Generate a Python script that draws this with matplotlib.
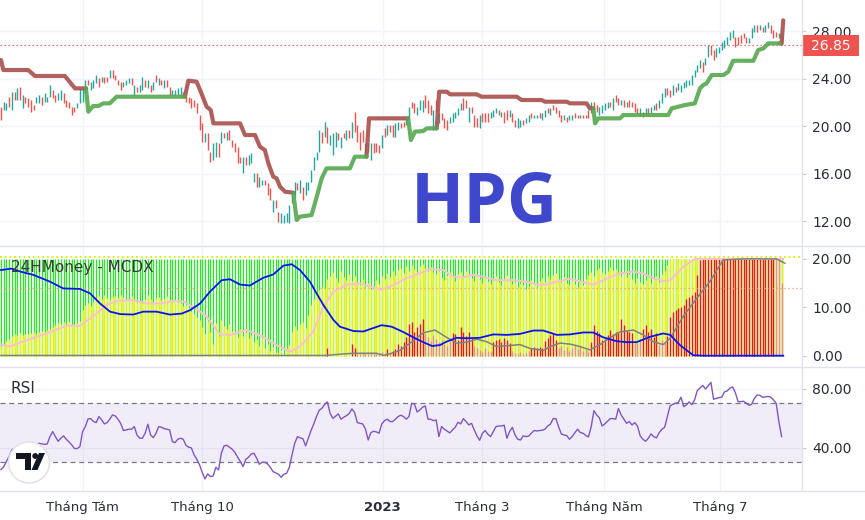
import matplotlib
matplotlib.use('Agg')
import matplotlib.pyplot as plt
from matplotlib.patches import Rectangle, Circle, Polygon

# ---------------- DATA ----------------
opens = [21.64, 21.36, 21.36, 22.48, 21.36, 22.90, 22.20, 23.32, 21.50, 22.48,
 22.34, 22.20, 21.78, 21.92, 21.92, 22.48, 22.06, 22.06, 22.48, 23.04,
 22.62, 22.20, 22.20, 22.76, 22.20, 22.06, 21.64, 21.64, 21.50, 21.92,
 22.06, 22.76, 23.88, 23.04, 23.18, 23.60, 24.02, 23.74, 24.16, 24.16,
 24.02, 24.72, 24.30, 23.88, 23.74, 23.32, 23.46, 23.60, 24.02, 22.62,
 23.32, 22.90, 23.04, 23.88, 23.18, 23.46, 23.04, 24.30, 23.46, 23.88,
 23.18, 23.88, 23.32, 22.62, 22.62, 22.62, 22.48, 22.90, 22.62, 22.48,
 22.34, 22.20, 21.92, 20.94, 20.24, 18.70, 19.40, 17.86, 17.16, 17.44,
 18.56, 18.56, 19.40, 18.84, 19.68, 18.84, 18.56, 18.28, 17.44, 16.04,
 17.44, 16.74, 16.88, 15.34, 16.04, 14.92, 15.06, 15.48, 15.20, 14.78,
 12.82, 13.80, 12.82, 11.84, 11.84, 11.98, 11.84, 13.52, 14.08, 15.20,
 14.36, 14.92, 14.22, 14.64, 15.34, 16.32, 17.16, 17.86, 19.54, 19.12,
 19.96, 18.42, 17.58, 18.28, 19.40, 18.14, 19.40, 18.84, 19.68, 18.98,
 21.22, 20.10, 19.54, 19.68, 17.44, 18.56, 17.16, 18.56, 18.56, 18.42,
 18.14, 19.82, 19.26, 20.10, 20.10, 19.12, 19.68, 20.24, 20.38, 20.10,
 20.66, 22.06, 21.92, 20.94, 21.36, 21.22, 22.62, 22.20, 21.78, 19.68,
 22.20, 20.24, 21.08, 20.66, 20.52, 20.24, 20.38, 20.66, 20.94, 21.36,
 22.34, 22.20, 20.38, 21.64, 20.94, 20.66, 19.82, 21.08, 21.08, 21.08,
 20.66, 20.80, 21.08, 21.36, 20.80, 21.22, 21.36, 20.80, 21.08, 20.52,
 19.82, 19.96, 20.52, 20.24, 20.38, 21.08, 20.66, 20.66, 21.08, 20.52,
 20.80, 21.50, 20.94, 21.78, 21.64, 21.36, 20.94, 20.52, 20.80, 20.52,
 20.52, 21.08, 20.94, 20.66, 20.94, 20.94, 21.36, 21.08, 22.06,
 21.78, 20.94, 21.08, 21.36, 21.50, 22.06, 21.36, 22.62, 22.34, 21.78,
 22.20, 21.64, 22.20, 22.06, 21.92, 21.50, 20.94, 21.22, 20.94, 21.50,
 21.08, 21.36, 21.92, 21.50, 21.92, 22.48, 23.18, 23.04, 22.62, 23.32,
 23.04, 22.90, 23.18, 23.32, 23.46, 23.46, 24.16, 24.58, 24.86, 25.42,
 25.14, 25.84, 26.82, 26.40, 25.84, 26.12, 26.40, 26.54, 26.82, 27.24,
 27.38, 27.52, 27.52, 27.66, 27.80, 27.52, 26.96, 27.38, 27.94, 28.50,
 28.08, 28.36, 27.94, 28.22, 28.50, 28.08, 27.94, 27.38, 27.80]

closes = [20.52, 22.06, 21.92, 21.64, 22.90, 22.20, 23.18, 22.20, 22.62, 21.92,
 21.64, 21.22, 21.36, 22.48, 22.62, 21.78, 22.76, 22.48, 23.46, 22.34,
 22.06, 22.76, 23.04, 21.92, 21.64, 21.50, 20.94, 21.22, 21.92, 23.18,
 23.18, 23.88, 23.46, 23.74, 23.88, 24.30, 23.32, 24.16, 23.60, 23.74,
 24.72, 24.02, 23.88, 23.46, 23.04, 23.74, 23.88, 24.02, 23.46, 23.46,
 22.90, 23.46, 24.16, 23.32, 23.88, 22.90, 23.74, 23.74, 24.02, 23.46,
 23.88, 23.32, 22.62, 23.04, 23.04, 23.18, 23.32, 22.48, 22.06, 21.92,
 21.50, 21.64, 21.08, 19.68, 18.70, 19.40, 18.00, 17.02, 18.56, 18.70,
 17.44, 19.54, 18.98, 19.54, 18.84, 18.28, 17.86, 16.88, 16.88, 17.44,
 16.74, 17.58, 17.72, 16.04, 14.92, 15.76, 15.48, 15.10, 14.22, 13.80,
 13.80, 13.10, 11.98, 12.68, 12.54, 12.68, 13.38, 14.22, 15.34, 14.64,
 15.48, 13.80, 15.34, 15.34, 16.32, 17.44, 17.86, 19.68, 18.56, 20.38,
 18.56, 19.26, 19.40, 19.54, 18.84, 19.12, 18.98, 19.68, 18.98, 20.38,
 19.54, 18.70, 18.00, 18.70, 18.56, 17.86, 18.56, 17.72, 17.86, 17.72,
 19.26, 19.12, 20.10, 19.54, 19.12, 20.24, 20.38, 19.82, 19.96, 20.66,
 21.64, 21.50, 21.08, 21.64, 22.20, 22.20, 21.50, 21.08, 20.94, 21.36,
 21.22, 21.08, 20.52, 19.82, 19.68, 20.80, 21.08, 21.22, 21.50, 21.92,
 21.36, 21.50, 21.64, 21.08, 19.96, 19.96, 20.94, 20.38, 20.38, 20.38,
 21.22, 21.36, 21.50, 20.94, 21.22, 20.24, 20.52, 21.36, 20.38, 19.96,
 20.66, 20.52, 20.10, 20.66, 20.94, 20.66, 20.94, 20.94, 20.66, 21.08,
 21.36, 21.08, 21.50, 21.36, 21.08, 20.80, 20.38, 20.94, 20.38, 20.94,
 20.94, 20.66, 20.66, 20.94, 20.66, 20.66, 20.66, 22.06, 21.64,
 21.22, 21.64, 21.78, 21.92, 22.06, 21.64, 22.34, 22.06, 21.78, 22.20,
 21.64, 22.06, 21.64, 21.64, 21.22, 21.08, 21.50, 20.80, 21.50, 20.94,
 21.64, 21.78, 21.36, 22.20, 22.76, 23.18, 22.62, 22.48, 23.46, 22.90,
 23.60, 23.46, 23.74, 23.88, 23.88, 24.30, 24.72, 25.14, 25.56, 24.58,
 25.70, 26.82, 25.98, 25.56, 26.54, 26.68, 27.10, 27.24, 27.52, 27.94,
 28.08, 26.68, 26.82, 26.96, 27.38, 26.96, 27.38, 28.22, 28.50, 27.94,
 28.50, 27.94, 28.50, 28.78, 27.80, 27.38, 27.52, 27.80, 26.85]

last_price = 26.85

# trailing-stop style indicator: (bar index, price) breakpoints per segment
resist_segments = [
    [(0, 25.56), (0.85, 24.72), (10, 24.72), (12.5, 24.22), (23.5, 24.22), (27.2, 23.18), (31.25, 23.18)],
    [(67.6, 22.48), (68.9, 23.83), (71.9, 23.74), (73.2, 23.04), (75.6, 21.64), (77.1, 21.36), (78.1, 20.24),
     (87.9, 20.24), (89.7, 19.26), (93.4, 19.26), (95.2, 18.28), (97, 18.0), (98.3, 16.88), (100.1, 15.76),
     (101.3, 15.62), (102.6, 14.92), (104.4, 14.5), (107.5, 14.41)],
    [(134.4, 17.44), (135.3, 20.66), (149.7, 20.66)],
    [(160.2, 19.82), (161.1, 22.9), (163.9, 22.9), (165.1, 22.68), (174.9, 22.68), (176.7, 22.48), (189.6, 22.48),
     (191.4, 22.2), (198.8, 22.2), (200, 22.06), (208, 22.06), (209.2, 21.92), (215.3, 21.92), (216.5, 21.5), (217.8, 21.5)],
    [(286.4, 26.96), (287, 26.96), (287.6, 28.9)],
]
support_segments = [
    [(31.25, 23.18), (32.1, 21.22), (33.9, 21.7), (35.8, 21.7), (37.6, 21.92), (40, 21.92), (42.5, 22.48), (67.6, 22.48)],
    [(107.5, 14.36), (108.7, 12.12), (109.9, 12.4), (114.2, 12.54), (116.1, 14.08), (117.9, 15.62), (119.7, 16.46),
     (128.3, 16.46), (130.1, 17.44), (134.4, 17.44)],
    [(149.7, 20.66), (150.7, 18.84), (152.2, 19.54), (155.3, 19.6), (156.5, 19.82), (160.2, 19.82)],
    [(217.8, 21.5), (218.4, 20.24), (219.6, 20.66), (227.6, 20.66), (228.8, 20.94), (245.3, 20.94), (246.6, 21.5),
     (249, 21.64), (251.5, 21.78), (255.1, 21.92), (257, 23.18), (258.2, 23.46), (259.4, 23.6), (261.3, 24.3),
     (265.6, 24.3), (267.4, 24.58), (269.2, 25.5), (276.6, 25.5), (278.4, 26.4), (280.3, 26.54), (282.1, 26.96), (286.4, 26.96)],
]

# MCDX
retail_level = 20.0
hot_money = [2.0, 2.5, 3.0, 3.5, 4.0, 4.4, 4.2, 4.6, 4.3, 4.5,
 4.4, 4.6, 4.8, 4.5, 5.0, 5.2, 4.9, 5.3, 5.6, 6.0,
 6.4, 6.8, 6.5, 7.0, 6.6, 6.9, 6.4, 6.2, 6.8, 7.2,
 9.5, 10.4, 10.8, 10.2, 11.0, 11.6, 12.3, 11.8, 12.5, 12.0,
 11.6, 12.2, 12.4, 11.9, 12.6, 12.1, 11.5, 11.8, 12.3, 11.6,
 11.0, 11.4, 10.9, 11.8, 12.6, 11.7, 11.2, 11.9, 12.2, 11.6,
 11.8, 12.4, 11.5, 11.1, 11.6, 11.0, 10.8, 10.2, 10.5, 9.8,
 9.2, 8.6, 8.0, 7.4, 6.0, 4.5, 7.2, 5.0, 2.5, 6.8,
 4.0, 7.4, 6.2, 5.5, 6.6, 5.2, 4.4, 3.8, 5.6, 4.0,
 4.8, 3.6, 4.2, 2.8, 3.5, 2.0, 3.6, 1.5, 2.4, 1.0,
 1.8, 0.8, 0.5, 1.2, 0.4, 1.5, 2.2, 4.8, 6.2, 5.4,
 6.6, 7.0, 5.8, 8.5, 10.4, 11.8, 12.8, 13.5, 14.2, 13.9,
 15.8, 16.4, 17.2, 16.0, 15.3, 17.5, 16.2, 15.6, 16.8, 15.4,
 16.5, 15.2, 14.6, 15.8, 14.2, 15.0, 13.8, 14.5, 15.6, 14.8,
 16.4, 15.8, 17.0, 16.2, 17.5, 16.6, 17.8, 18.2, 17.0, 18.5,
 17.6, 18.8, 18.0, 17.4, 18.6, 19.0, 18.2, 17.6, 18.4, 17.2,
 16.8, 17.5, 16.0, 15.6, 16.6, 17.4, 16.2, 15.5, 16.8, 17.2,
 16.4, 17.6, 16.8, 16.0, 15.4, 16.6, 15.8, 15.0, 16.2, 15.4,
 14.8, 15.6, 16.4, 15.2, 14.6, 15.8, 16.6, 15.4, 14.8, 15.2,
 14.2, 15.0, 14.6, 13.8, 14.4, 15.6, 14.8, 14.2, 15.4, 16.0,
 15.2, 16.4, 15.8, 16.6, 17.0, 15.8, 15.2, 16.2, 15.0, 14.6,
 15.6, 14.8, 14.2, 15.4, 14.6, 15.8, 16.6, 17.2, 16.4, 17.8,
 18.2, 17.4, 16.8, 17.6, 18.4, 17.8, 18.0, 17.2, 16.4, 17.0,
 16.2, 16.8, 15.8, 15.0, 16.0, 15.2, 14.8, 15.6, 16.2, 15.0,
 15.8, 16.4, 15.2, 16.8, 17.6, 18.8, 20.0, 20.0, 20.0, 20.0,
 20.0, 20.0, 20.0, 20.0, 20.0, 20.0, 20.0, 20.0, 20.0, 20.0,
 20.0, 20.0, 20.0, 20.0, 20.0, 20.0, 20.0, 20.0, 20.0, 20.0,
 20.0, 20.0, 20.0, 20.0, 20.0, 20.0, 20.0, 20.0, 20.0, 20.0,
 20.0, 20.0, 20.0, 20.0, 20.0, 20.0, 20.0, 19.7]

banker = [0, 0, 0, 0, 0, 0, 0, 0, 0, 0,
 0, 0, 0, 0, 0, 0, 0, 0, 0, 0,
 0, 0, 0, 0, 0, 0, 0, 0, 0, 0,
 0, 0, 0, 0, 0, 0, 0, 0, 0, 0,
 0, 0, 0, 0, 0, 0, 0, 0, 0, 0,
 0, 0, 0, 0, 0, 0, 0, 0, 0, 0,
 0, 0, 0, 0, 0, 0, 0, 0, 0, 0,
 0, 0, 0, 0, 0, 0, 0, 0, 0, 0,
 0, 0, 0, 0, 0, 0, 0, 0, 0, 0,
 0, 0, 0, 0, 0, 0, 0, 0, 0, 0,
 0, 0, 0, 0, 0, 0, 0, 0, 0, 0,
 0, 0, 0, 0, 0, 0, 0, 0, 0, 0,
 1.5, 0, 0, 0, 0, 0, 0, 0, 0, 2.5,
 1.5, 0.4, 0.3, 0.5, 0.4, 0.3, 0.5, 0.4, 0.6, 0.3,
 0.8, 0.2, 1.4, 0.5, 0.9, 1.4, 2.5, 2.1, 2.8, 3.9,
 6.6, 6.9, 5.0, 6.0, 6.6, 7.6, 4.5, 3.8, 3.0, 4.2,
 3.5, 2.8, 3.2, 2.5, 2.0, 3.0, 4.6, 4.5, 3.3, 6.0,
 5.0, 4.0, 4.8, 3.6, 2.0, 1.5, 1.2, 0.8, 1.5, 1.0,
 0.7, 2.8, 3.3, 3.4, 2.8, 3.6, 3.3, 2.6, 1.0, 0.6,
 0.4, 0.8, 0.3, 0.6, 0.9, 1.6, 1.9, 1.6, 1.9, 1.6,
 3.0, 3.6, 4.3, 4.6, 3.3, 1.6, 2.0, 1.2, 1.8, 1.0,
 1.5, 2.2, 1.4, 1.8, 1.0, 1.3, 0.8, 2.9, 6.3, 5.2,
 4.6, 3.3, 3.4, 4.3, 5.3, 4.5, 4.8, 5.0, 7.6, 6.3,
 5.3, 5.0, 4.6, 2.9, 2.6, 3.5, 5.5, 6.3, 4.8, 5.5,
 3.8, 4.6, 2.5, 3.2, 2.8, 4.0, 8.1, 9.1, 9.4, 9.8,
 10.1, 10.5, 11.8, 12.2, 12.5, 13.2, 16.7, 19.8, 20.0, 20.0,
 20.0, 20.0, 20.0, 20.0, 20.0, 20.0, 20.0, 20.0, 20.0, 20.0,
 20.0, 20.0, 20.0, 20.0, 20.0, 20.0, 20.0, 20.0, 20.0, 20.0,
 20.0, 20.0, 20.0, 20.0, 20.0, 20.0, 20.0, 15.0]

# 'R' = strong banker bar, 's' = weak (salmon) bar, '.' = none
banker_tone = ('.' * 0 +
 '..........' '..........' '..........' '..........' '..........' '..........'
 '..........' '..........' '..........' '..........' '..........' '..........'
 'R........R' 'Rsssssssss' 'ssRsRRRRRR' 'RRRRRRssss' 'ssssssRRRR' 'RRRRssssss'
 'sRRRRRRRss' 'sssssRRRRR' 'RRRRRsssss' 'sssssssRRR' 'RRRRRRRRRR' 'RRRsssRRRR'
 'RRsssRRRRR' 'RRRRRRRRRR' 'RRRRRRRRRR' 'RRRRRRRRRR' 'RRRRRsss')

retail_line = [(0, 17.7), (3.9, 18.0), (7.0, 17.4), (11.9, 16.7), (18.0, 15.3), (22.9, 13.9), (29.0, 13.8),
 (32.7, 12.9), (36.4, 10.8), (40.1, 9.1), (43.8, 8.6), (48.6, 8.5), (52.3, 9.1), (57.2, 9.1), (62.1, 8.5),
 (66.4, 8.7), (69.5, 9.4), (73.2, 10.8), (76.8, 13.2), (81.1, 15.6), (84.2, 15.8), (87.9, 14.7), (91.5, 14.5),
 (96.4, 16.1), (100.1, 16.8), (103.8, 18.6), (106.9, 18.9), (109.9, 17.7), (113.6, 15.3), (116.0, 12.9),
 (118.5, 10.5), (122.2, 7.4), (124.6, 6.0), (129.5, 5.1), (133.2, 5.0), (136.3, 5.6), (139.9, 6.3),
 (143.6, 6.0), (147.5, 5.0), (151.6, 3.8), (155.2, 2.8), (158.5, 2.0), (161.4, 2.2), (163.8, 2.9),
 (167.5, 3.7), (171.2, 3.6), (176.0, 3.7), (181.0, 4.4), (185.9, 4.3), (190.8, 4.5), (195.7, 5.2),
 (199.4, 5.2), (204.3, 4.3), (209.2, 4.4), (214.1, 4.8), (217.7, 4.8), (221.4, 3.8), (226.3, 3.0),
 (230.0, 2.8), (233.7, 2.8), (238.6, 3.9), (243.5, 4.6), (246.0, 4.3), (249.6, 2.2), (254.5, 0.1),
 (258.2, 0.0), (287.6, 0.0)]
hot_line = [(0, 2.3), (3.3, 1.9), (9.4, 3.2), (16.8, 4.6), (24.1, 6.2), (29.0, 6.2), (33.9, 8.1), (38.8, 10.5),
 (42.5, 11.3), (48.6, 11.5), (53.5, 10.8), (58.5, 10.8), (63.4, 11.3), (67.0, 11.2), (70.7, 10.1), (75.6, 8.1),
 (80.5, 4.4), (84.2, 4.3), (90.3, 5.3), (96.4, 3.9), (101.3, 2.2), (106.2, 0.8), (109.9, 1.9), (114.8, 5.0),
 (118.5, 10.1), (122.2, 13.2), (127.1, 14.7), (132.0, 14.9), (135.7, 14.3), (139.9, 13.6), (144.2, 14.6),
 (149.1, 16.0), (154.0, 17.0), (157.7, 17.9), (162.6, 17.7), (166.3, 16.3), (170.0, 16.2), (173.6, 16.7),
 (177.3, 16.3), (182.2, 15.6), (188.3, 15.6), (193.2, 15.3), (196.9, 14.7), (200.6, 14.7), (204.3, 15.3),
 (209.2, 15.9), (215.3, 15.0), (217.7, 14.7), (222.6, 15.9), (227.5, 17.0), (232.5, 17.4), (236.1, 17.0),
 (239.8, 16.0), (243.5, 15.4), (246.0, 15.6), (250.8, 18.4), (255.1, 20.0), (287.6, 20.0)]
banker_line = [(0, 0.05), (119.7, 0.05), (122.2, 0.2), (129.5, 0.5), (138.1, 0.5), (140.6, 0.1), (143.0, 0.4),
 (146.7, 1.1), (151.6, 3.1), (155.2, 4.7), (159.5, 5.3), (163.8, 3.8), (167.5, 2.6), (171.2, 2.8),
 (175.0, 3.4), (178.5, 2.9), (182.2, 1.9), (187.1, 2.1), (190.8, 2.3), (194.5, 1.5), (199.4, 1.1),
 (202.5, 2.0), (205.5, 2.6), (209.2, 2.4), (212.8, 1.9), (216.5, 1.2), (220.2, 2.3), (223.9, 3.7),
 (227.5, 4.9), (232.5, 5.3), (236.1, 4.3), (239.8, 2.9), (243.5, 2.3), (246.0, 3.6), (250.8, 8.1),
 (255.7, 11.8), (260.6, 15.3), (265.5, 19.8), (272.9, 20.0), (285.1, 20.0), (288.2, 19.1)]
mcdx_ref_level = 13.9

# RSI
rsi = [25.0, 27.0, 30.5, 34.0, 38.5, 39.3, 38.8, 40.2, 41.5, 41.0,
 40.6, 41.0, 41.8, 42.4, 42.9, 42.4, 42.2, 42.4, 47.4, 50.8,
 47.4, 44.2, 46.3, 47.9, 45.6, 43.8, 41.8, 39.3, 39.3, 40.6,
 50.8, 54.2, 59.4, 59.6, 57.6, 56.9, 61.0, 58.7, 56.0, 56.9,
 59.2, 62.1, 61.4, 59.2, 56.4, 51.5, 51.9, 52.4, 52.4, 54.2,
 48.5, 46.3, 46.3, 49.7, 55.8, 48.5, 46.7, 49.7, 54.2, 53.7,
 52.8, 52.4, 51.9, 44.0, 43.3, 45.6, 46.3, 45.6, 41.5, 40.2,
 39.7, 35.0, 32.0, 28.2, 23.0, 18.7, 22.1, 20.3, 20.7, 26.6,
 24.8, 36.1, 41.1, 41.5, 40.2, 38.8, 36.6, 33.4, 30.5, 27.1,
 32.0, 33.4, 35.6, 36.1, 32.7, 28.6, 30.0, 30.0, 28.9, 26.6,
 23.7, 22.8, 21.9, 19.8, 21.9, 22.5, 26.6, 35.0, 42.9, 47.4,
 46.5, 46.0, 41.1, 46.3, 51.5, 56.0, 61.0, 65.3, 66.6, 69.3,
 70.9, 63.2, 59.8, 61.2, 62.8, 59.2, 60.5, 61.6, 63.0, 66.2,
 63.7, 56.9, 56.4, 56.0, 52.4, 45.1, 50.1, 51.0, 50.6, 49.7,
 56.0, 58.2, 59.2, 57.6, 57.6, 59.2, 61.0, 61.9, 61.0, 59.2,
 61.0, 70.0, 69.5, 64.1, 65.5, 67.3, 68.2, 59.2, 59.2, 58.2,
 58.7, 47.4, 54.2, 52.4, 51.2, 49.9, 51.9, 53.7, 57.1, 56.0,
 59.6, 57.6, 55.3, 56.4, 51.9, 47.9, 44.9, 49.7, 51.5, 49.0,
 47.4, 50.8, 54.2, 54.6, 54.6, 55.1, 46.3, 50.8, 53.7, 48.5,
 45.6, 45.1, 47.9, 47.4, 47.7, 49.7, 51.5, 51.2, 51.5, 51.7,
 52.4, 54.6, 55.8, 59.6, 59.6, 54.2, 49.2, 48.5, 48.1, 45.6,
 47.4, 50.1, 52.4, 50.1, 49.7, 48.1, 47.2, 54.2, 65.0, 62.1,
 60.1, 54.6, 56.0, 57.8, 59.6, 59.6, 59.2, 66.4, 62.1, 59.2,
 56.4, 57.6, 55.3, 56.9, 54.6, 47.9, 45.6, 44.2, 46.3, 49.2,
 47.4, 46.5, 50.1, 52.4, 53.7, 61.0, 68.2, 69.3, 70.0, 70.5,
 74.1, 67.7, 68.9, 70.9, 69.1, 72.3, 78.6, 80.4, 82.1, 79.7,
 81.8, 84.2, 72.7, 73.4, 73.8, 74.1, 77.7, 78.4, 80.2, 81.1,
 77.2, 71.1, 71.1, 71.4, 70.0, 68.6, 69.3, 73.4, 75.6, 75.4,
 74.1, 74.3, 74.7, 74.1, 72.3, 70.0, 57.6, 47.4]
rsi_upper, rsi_lower = 70, 30

# time axis (bar index of month starts)
month_ticks = [30, 74, 140.4, 177, 221.7, 264.3]
month_labels = ['Tháng Tám', 'Tháng 10', '2023', 'Tháng 3', 'Tháng Năm', 'Tháng 7']
price_ticks = [12, 16, 20, 24, 28]
mcdx_ticks = [0, 10, 20]
rsi_ticks = [40, 80]
ticker = 'HPG'

# ---------------- FIGURE ----------------
W, H = 865, 520
fig = plt.figure(figsize=(W / 100, H / 100), dpi=100)
fig.patch.set_facecolor('white')
plt.rcParams['font.family'] = ['DejaVu Sans']

def frac(l, t, r, b):
    return [l / W, 1 - b / H, (r - l) / W, (b - t) / H]

ax_p = fig.add_axes(frac(0, 0, 802, 245))
ax_m = fig.add_axes(frac(0, 246, 802, 366))
ax_r = fig.add_axes(frac(0, 367, 802, 491))

XLIM = (-0.37, 294.5)
TXT = '#2a2e39'
GRID = '#f0f3fa'

for ax in (ax_p, ax_m, ax_r):
    ax.set_xlim(*XLIM)
    for s in ax.spines.values():
        s.set_visible(False)
    ax.set_xticks(month_ticks)
    ax.grid(True, color=GRID, lw=1.0, zorder=0)
    ax.set_axisbelow(True)
    ax.yaxis.tick_right()
    ax.tick_params(axis='y', which='both', length=3, width=0.8, color='#c8cad0', pad=4.5,
                   labelsize=10, labelcolor=TXT)
    ax.tick_params(axis='x', length=0)
    ax.set_facecolor('none')

# --- price panel ---
N = len(closes)
xs = list(range(N))
lo = [min(o, c) for o, c in zip(opens, closes)]
hi = [max(o, c) for o, c in zip(opens, closes)]
cols = ['#26a69a' if c >= o else '#ef5350' for o, c in zip(opens, closes)]
ax_p.vlines(xs, lo, hi, colors=cols, lw=1.0, zorder=3)
for seg in resist_segments:
    ax_p.plot([p[0] for p in seg], [p[1] for p in seg], color='#a8504b', lw=3.0, alpha=0.9,
              solid_capstyle='round', solid_joinstyle='round', zorder=4)
for seg in support_segments:
    ax_p.plot([p[0] for p in seg], [p[1] for p in seg], color='#55a84f', lw=3.0, alpha=0.9,
              solid_capstyle='round', solid_joinstyle='round', zorder=4)
ax_p.axhline(last_price, color='#ef5350', ls=(0, (1, 2.2)), lw=0.9, zorder=2)
ax_p.set_ylim(10.02, 30.605)
ax_p.set_yticks(price_ticks)
ax_p.set_yticklabels([f'{v:.2f}' for v in price_ticks])
ax_p.tick_params(axis='x', labelbottom=False)

# --- MCDX panel ---
ax_m.vlines(xs, 0, retail_level, colors='#2ae52a', lw=0.95, zorder=2)
ax_m.vlines(xs, 0, hot_money, colors='#eef200', lw=0.95, zorder=3)
rx = [i for i in xs if banker_tone[i] != '.']
ry = [banker[i] for i in rx]
rc = ['#ff1010' if banker_tone[i] == 'R' else '#f68a7c' for i in rx]
ax_m.vlines(rx, 0, ry, colors=rc, lw=0.95, zorder=4)
ax_m.axhline(20.3, color='#dcee00', ls=(0, (1, 1.6)), lw=1.3, zorder=5)
ax_m.axhline(mcdx_ref_level, color='#f59a78', ls=(0, (1, 2.2)), lw=0.9, zorder=5)
ax_m.plot([p[0] for p in hot_line], [p[1] for p in hot_line], color='#ffc0cb', lw=1.4, zorder=6)
ax_m.plot([p[0] for p in banker_line], [p[1] for p in banker_line], color='#808080', lw=1.1, zorder=6)
ax_m.plot([p[0] for p in retail_line], [p[1] for p in retail_line], color='#0a14f0', lw=1.3, zorder=7)
ax_m.set_ylim(-2.13, 22.67)
ax_m.set_yticks(mcdx_ticks)
ax_m.set_yticklabels([f'{v:.2f}' for v in mcdx_ticks])
ax_m.tick_params(axis='x', labelbottom=False)
ax_m.grid(False, axis='y')
ax_m.text(0.0135, 0.82, '24HMoney - MCDX', transform=ax_m.transAxes, fontsize=11, color='#3a3a3a',
          ha='left', va='center', zorder=8)

# --- RSI panel ---
ax_r.axhspan(rsi_lower, rsi_upper, color='#7e57c2', alpha=0.1, lw=0, zorder=1)
ax_r.axhline(rsi_upper, color='#787b86', ls=(0, (4, 3)), lw=0.9, zorder=2)
ax_r.axhline(rsi_lower, color='#787b86', ls=(0, (4, 3)), lw=0.9, zorder=2)
ax_r.plot(range(len(rsi)), rsi, color='#7e57c2', lw=1.0, zorder=4)
ax_r.set_ylim(10.5, 94.6)
ax_r.set_yticks(rsi_ticks)
ax_r.set_yticklabels([f'{v:.2f}' for v in rsi_ticks])
ax_r.set_xticklabels(month_labels)
ax_r.tick_params(axis='x', labelsize=9.5, labelcolor=TXT, pad=7)
for lab in ax_r.get_xticklabels():
    if lab.get_text() == '2023':
        lab.set_fontweight('bold')
ax_r.text(0.0135, 0.83, 'RSI', transform=ax_r.transAxes, fontsize=11, color=TXT,
          ha='left', va='center', zorder=8)

# --- overlay decorations ---
ov = fig.add_axes([0, 0, 1, 1], zorder=10)
ov.set_xlim(0, W)
ov.set_ylim(H, 0)
ov.axis('off')
ov.patch.set_alpha(0)
SEP = '#e0e3eb'
for yy in (245.5, 366.5, 491):
    ov.plot([0, W], [yy, yy], color=SEP, lw=1.0)
ov.plot([802, 802], [0, 491], color=SEP, lw=1.0)

# ticker watermark
ov.text(484, 222.5, ticker, fontsize=50, fontweight='bold', color='#3f48cc', family='Open Sans',
        ha='center', va='baseline', zorder=1)

# last price label
ov.add_patch(Rectangle((802, 35), 57, 21, facecolor='#ef5350', edgecolor='none'))
ov.text(830.5, 45.5, f'{last_price:.2f}', color='white', fontsize=10, ha='center', va='center')

# TradingView badge
ov.add_patch(Circle((29, 462.5), 20.5, facecolor='white', edgecolor='#e3e3e3', lw=1.2, zorder=11))
ov.add_patch(Rectangle((16, 453), 15, 6, facecolor='#131722', edgecolor='none', zorder=12))
ov.add_patch(Rectangle((25, 453), 6, 17, facecolor='#131722', edgecolor='none', zorder=12))
ov.add_patch(Circle((35.2, 456), 2.9, facecolor='#131722', edgecolor='none', zorder=12))
ov.add_patch(Polygon([(39, 453), (45, 453), (37.5, 470), (31.5, 470)], closed=True,
                     facecolor='#131722', edgecolor='none', zorder=12))

fig.savefig('out.png', dpi=100, facecolor='white')
